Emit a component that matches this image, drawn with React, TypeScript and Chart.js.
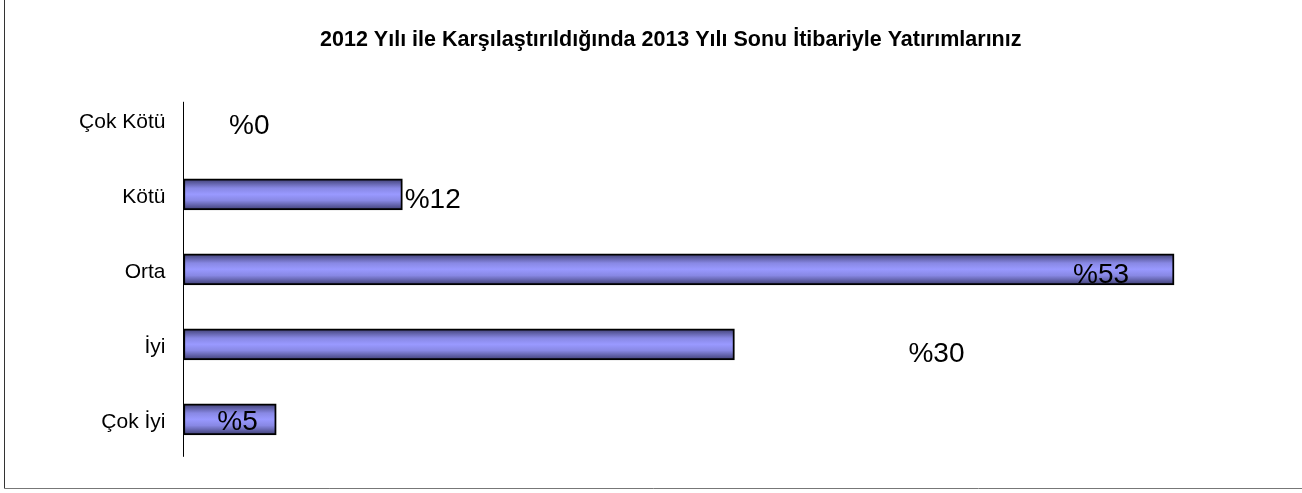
import React, { useEffect, useRef } from "react";
import { Chart, registerables } from "chart.js";

Chart.register(...registerables);

const titleText = "2012 Yılı ile Karşılaştırıldığında 2013 Yılı Sonu İtibariyle Yatırımlarınız";
const categories = ["Çok Kötü", "Kötü", "Orta", "İyi", "Çok İyi"];
const values = [0, 11.8, 53.4, 29.7, 5.0];
const valueLabels = values.map((v) => "%" + Math.round(v));

// label placement (style): x offset from bar end, baseline offset from category centre
const labelDx = [45.5, 2.3, -101, 174, -59];
const labelDy = [14.7, 13.7, 14.1, 18, 10.8];

const FONT = "'Liberation Sans', Arial, sans-serif";

const framePlugin = {
  id: "frame",
  beforeDraw(chart: any) {
    const { ctx } = chart;
    ctx.save();
    ctx.fillStyle = "#ffffff";
    ctx.fillRect(0, 0, chart.width, chart.height);
    ctx.lineWidth = 1;
    ctx.strokeStyle = "#333333";
    ctx.beginPath();
    ctx.moveTo(4.5, -2);
    ctx.lineTo(4.5, 488.5);
    ctx.stroke();
    ctx.strokeStyle = "#777777";
    ctx.beginPath();
    ctx.moveTo(4.5, 488.5);
    ctx.lineTo(chart.width + 2, 488.5);
    ctx.stroke();
    ctx.restore();
  },
};

const axisLinePlugin = {
  id: "axisLine",
  afterDatasetsDraw(chart: any) {
    const { ctx, chartArea } = chart;
    ctx.save();
    ctx.strokeStyle = "#000000";
    ctx.lineWidth = 1;
    ctx.beginPath();
    const x = Math.floor(chartArea.left) + 0.5;
    ctx.moveTo(x, chartArea.top + 20);
    ctx.lineTo(x, chartArea.bottom);
    ctx.stroke();
    ctx.restore();
  },
};

const valueLabelPlugin = {
  id: "valueLabels",
  afterDatasetsDraw(chart: any) {
    const { ctx } = chart;
    const xs = chart.scales.x;
    const ys = chart.scales.y;
    ctx.save();
    ctx.fillStyle = "#000000";
    ctx.font = `normal 28px ${FONT}`;
    ctx.textAlign = "left";
    ctx.textBaseline = "alphabetic";
    values.forEach((v, i) => {
      const xEnd = xs.getPixelForValue(v);
      const yc = ys.getPixelForValue(i);
      ctx.fillText(valueLabels[i], xEnd + labelDx[i], yc + labelDy[i]);
    });
    ctx.restore();
  },
};

function barGradient(context: any) {
  const chart = context.chart;
  const ys = chart.scales && chart.scales.y;
  if (!ys || !chart.chartArea) return "#9999ff";
  const yc = ys.getPixelForValue(context.dataIndex);
  const h = 31;
  const g = chart.ctx.createLinearGradient(0, yc - h / 2, 0, yc + h / 2);
  g.addColorStop(0, "#3e3e72");
  g.addColorStop(0.3, "#8888e4");
  g.addColorStop(0.5, "#9999ff");
  g.addColorStop(0.7, "#8888e4");
  g.addColorStop(1, "#3e3e72");
  return g;
}

export default function App() {
  const ref = useRef<HTMLCanvasElement>(null);
  useEffect(() => {
    if (!ref.current) return;
    Chart.defaults.color = "#000000";
    const chart = new Chart(ref.current, {
      type: "bar",
      data: {
        labels: categories,
        datasets: [
          {
            data: values,
            backgroundColor: barGradient as any,
            borderColor: "#000000",
            borderWidth: 2,
            borderSkipped: false,
            barThickness: 31,
          },
        ],
      },
      options: {
        indexAxis: "y",
        animation: false,
        responsive: false,
        layout: { padding: { top: 0, bottom: 36.2, left: 45, right: 5.5 } },
        plugins: {
          legend: { display: false },
          tooltip: { enabled: false },
          title: {
            display: true,
            text: titleText,
            color: "#000000",
            font: { family: FONT, size: 21.5, weight: "bold", lineHeight: 1.2 },
            padding: { top: 27, bottom: 29 },
          },
        },
        scales: {
          x: {
            display: false,
            min: 0,
            max: 60,
          },
          y: {
            grid: { display: false, drawTicks: false },
            border: { display: false },
            ticks: {
              padding: 18,
              labelOffset: 3,
              color: "#000000",
              font: { family: FONT, size: 21 },
            },
            afterFit(scale: any) {
              scale.width = 138.5;
            },
          },
        },
      },
      plugins: [framePlugin, axisLinePlugin, valueLabelPlugin],
    });
    return () => chart.destroy();
  }, []);
  return (
    <div style={{ position: "absolute", left: 0, top: 0, width: 1302, height: 493 }}>
      <canvas ref={ref} width={1302} height={493} style={{ display: "block" }} />
    </div>
  );
}
